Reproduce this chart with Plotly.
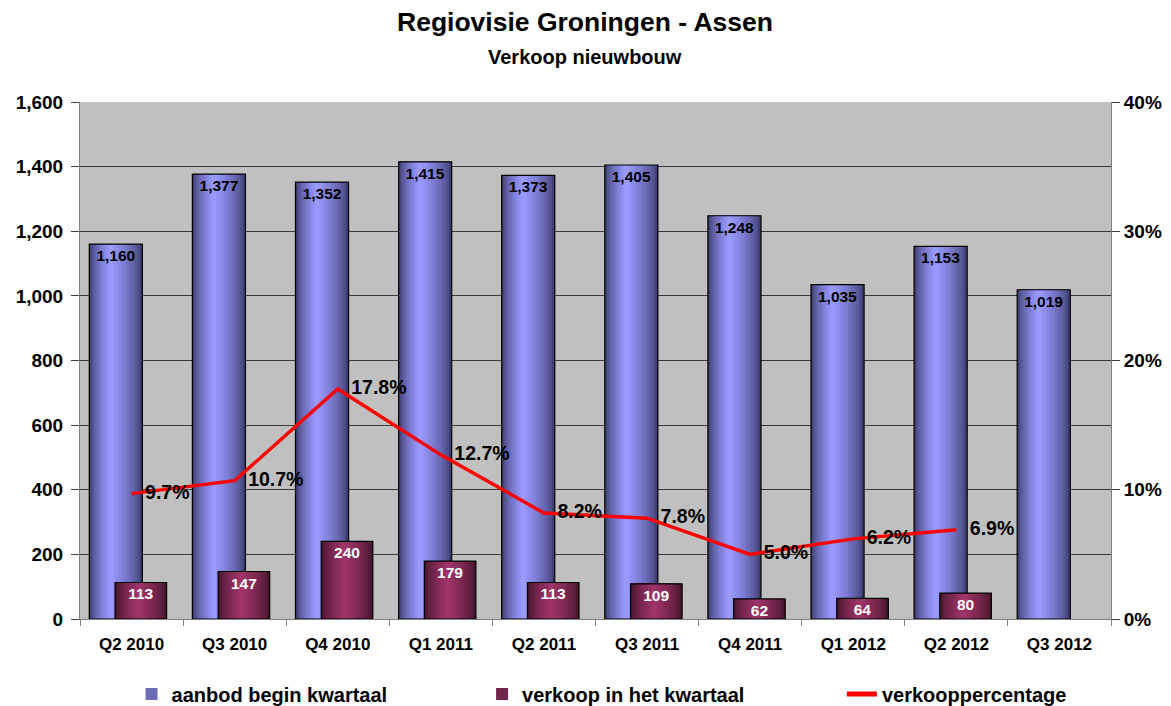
import plotly.graph_objects as go

quarters = ["Q2 2010", "Q3 2010", "Q4 2010", "Q1 2011", "Q2 2011",
            "Q3 2011", "Q4 2011", "Q1 2012", "Q2 2012", "Q3 2012"]
aanbod = [1160, 1377, 1352, 1415, 1373, 1405, 1248, 1035, 1153, 1019]
verkoop = [113, 147, 240, 179, 113, 109, 62, 64, 80, None]
pct_quarters = quarters[:9]
verkooppct = [0.097, 0.107, 0.178, 0.127, 0.082, 0.078, 0.050, 0.062, 0.069]

FONT = "Arial, Liberation Sans, sans-serif"


def lerp(c1, c2, t):
    return "rgb(%d,%d,%d)" % tuple(round(a + (b - a) * t) for a, b in zip(c1, c2))


def gradient_bar(fig, x, y, name, offset, width, edge, center, peak, text_color, legend):
    n = 12
    for i in range(n):
        a = 1 - i / n
        left = offset + width * peak * (1 - a)
        right = offset + width * (peak + (1 - peak) * a)
        t = (i / (n - 1)) ** 0.7
        fig.add_trace(go.Bar(
            x=x, y=y, name=name, offset=left, width=right - left,
            marker=dict(color=lerp(edge, center, t), line=dict(width=0)),
            showlegend=(i == 4), legendgroup=name, legend=legend, hoverinfo="skip"))
    fig.add_trace(go.Bar(
        x=x, y=y, name=name, offset=offset, width=width,
        marker=dict(color="rgba(0,0,0,0)", line=dict(color="black", width=1.2)),
        showlegend=False, legendgroup=name, legend=legend,
        texttemplate="<b>%{y:,}</b>", textposition="inside", insidetextanchor="end",
        textangle=0, constraintext="none",
        textfont=dict(family=FONT, size=15.5, color=text_color)))


fig = go.Figure()
gradient_bar(fig, quarters, aanbod, "<b>aanbod begin kwartaal</b>", -0.41, 0.515,
             (62, 62, 112), (153, 153, 255), 0.4, "black", "legend")
gradient_bar(fig, quarters, verkoop, "<b>verkoop in het kwartaal</b>", -0.16, 0.50,
             (70, 22, 44), (158, 52, 104), 0.45, "white", "legend2")

fig.add_trace(go.Scatter(
    x=pct_quarters, y=verkooppct, yaxis="y2", name="<b>verkooppercentage</b>",
    mode="lines+markers+text", line=dict(color="#ff0000", width=3.5), legend="legend3",
    marker=dict(size=20, color="rgba(0,0,0,0)"),
    text=["<b>%.1f%%</b>" % (v * 100) for v in verkooppct],
    textposition="middle right",
    textfont=dict(family=FONT, size=19.5, color="black")))

legend_style = dict(orientation="h", y=-0.145, yanchor="middle", xanchor="left",
                    font=dict(family=FONT, size=20, color="black"),
                    bgcolor="rgba(0,0,0,0)", itemsizing="constant")

# the page body adds an 8px offset at top/left, so the figure is sized to fill the rest
fig.update_layout(
    width=1163, height=698,
    margin=dict(l=72, r=60, t=94, b=87, autoexpand=False),
    paper_bgcolor="white", plot_bgcolor="#c0c0c0",
    barmode="overlay",
    font=dict(family=FONT, color="black"),
    xaxis=dict(type="category", range=[-0.5, len(quarters) - 0.5],
               tickson="boundaries", ticks="outside", ticklen=6,
               tickcolor="#808080", showline=True, linecolor="#808080",
               tickfont=dict(family=FONT, size=17), showgrid=False,
               ticklabelstandoff=10,
               tickprefix="<b>", ticksuffix="</b>"),
    yaxis=dict(range=[0, 1600], dtick=200, tickformat=",", ticks="outside", ticklen=8,
               tickcolor="#404040", showline=True, linecolor="#808080",
               gridcolor="#3a3a3a", gridwidth=1, zeroline=False,
               ticklabelstandoff=4,
               tickfont=dict(family=FONT, size=19), tickprefix="<b>", ticksuffix="</b>"),
    yaxis2=dict(range=[0, 0.4], dtick=0.1, tickformat=".0%", overlaying="y", side="right",
                showgrid=False, ticks="outside", ticklen=8, tickcolor="#404040",
                showline=True, linecolor="#808080", zeroline=False,
                tickfont=dict(family=FONT, size=19), tickprefix="<b>", ticksuffix="</b>"),
    legend=dict(x=0.050, **legend_style),
    legend2=dict(x=0.390, **legend_style),
    legend3=dict(x=0.739, **legend_style),
    showlegend=True,
    annotations=[
        dict(text="<b>Regiovisie Groningen - Assen</b>", xref="paper", yref="paper",
             x=0.49, y=1 + (94 - 14) / 517, showarrow=False,
             font=dict(family=FONT, size=26.5), yanchor="middle"),
        dict(text="<b>Verkoop nieuwbouw</b>", xref="paper", yref="paper",
             x=0.49, y=1 + (94 - 49) / 517, showarrow=False,
             font=dict(family=FONT, size=20), yanchor="middle"),
    ],
)

fig.write_html("out.html")
